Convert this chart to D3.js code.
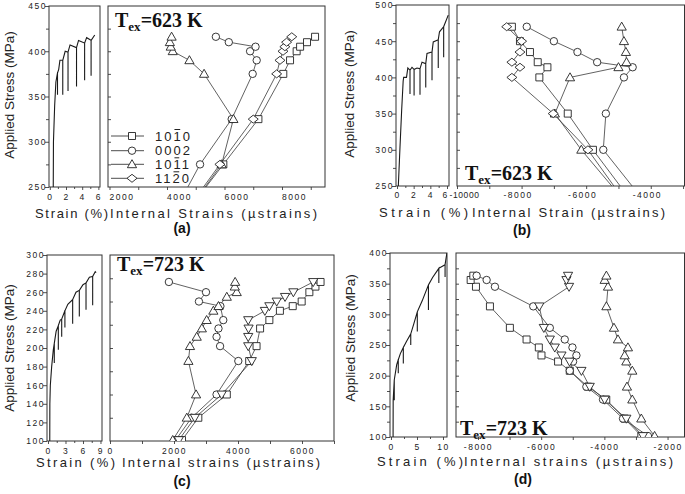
<!DOCTYPE html>
<html><head><meta charset="utf-8">
<script src="https://cdn.jsdelivr.net/npm/d3@7"></script>
<style>
body{margin:0;background:#fff;}
svg{display:block;}
</style></head><body>
<svg id="chart" width="685" height="494"></svg>
<script>
// ---------------- DATA ----------------
// Panel (a) Tex = 623 K
const stressA = [225, 275, 325, 375, 390, 400, 405, 410, 416];
const a1010 = [4750, 5960, 7180, 8045, 8280, 8510, 8630, 8870, 9150];
const a0002 = [4300, 5150, 6250, 6980, 7120, 6890, 7080, 6150, 5700];
const a1011 = [4750, 5900, 6310, 5290, 4780, 4200, 4130, 4100, 4160];
const a1120 = [4700, 5840, 7000, 7815, 7930, 8035, 8100, 8160, 8340];
const curveA = [[0.42,240],[0.45,300],[0.6,340],[0.75,366],[0.95,376],[0.95,352],[0.95,376],[1.1,380],[1.25,390],[1.6,390],[1.6,352],[1.6,390],[1.9,400],[2.25,399],[2.25,356],[2.25,399],[2.5,407],[3.3,404],[3.3,361],[3.3,404],[3.55,412],[4.3,409],[4.3,368],[4.3,409],[4.55,415],[5.1,412],[5.1,373],[5.1,412],[5.55,418]];

// Panel (b) Tex = 623 K
const stressB = [230, 300, 350, 400, 414, 421, 435, 450, 470];
const b1010 = [-4610, -5790, -6570, -7450, -7200, -7500, -7740, -8050, -8300];
const b0002 = [-4220, -5470, -5390, -4830, -4560, -5660, -6270, -7000, -7840];
const b1011 = [-4830, -6150, -6970, -6500, -5000, -4750, -4770, -4830, -4900];
const b1120 = [-4820, -5945, -7020, -8300, -8050, -8300, -8050, -8000, -8460];
const curveB = [[0.12,240],[0.36,304],[0.56,355],[0.74,395],[0.8,400],[1.14,400],[1.3,413],[1.56,410],[1.56,377],[1.56,410],[1.8,414],[2.05,411],[2.05,375],[2.05,411],[2.4,413],[2.76,412],[2.76,376],[2.76,412],[3.0,421],[3.45,419],[3.45,386],[3.45,419],[3.6,433],[4.2,435],[4.2,396],[4.2,435],[4.35,449],[4.95,452],[4.95,413],[4.95,452],[5.1,463],[5.6,470],[5.6,428],[5.6,470],[6.15,486]];

// Panel (c) Tex = 723 K
const stressC = [101, 125, 150, 186, 202, 212, 221, 230, 240, 245, 250, 255, 260, 266, 271];
const c1010 = [2250, 2760, 3650, 4350, 4580, null, 4690, 4980, 5310, 5710, 5990, null, 6230, 6420, 6580];
const c0002 = [2050, 2550, 3330, 4010, 3440, 3330, 3390, 3540, null, 3450, 2780, null, 3000, null, 1840];
const c1011 = [1960, 2400, 2690, 2450, 2500, 2710, 2870, 3020, 3230, 3390, null, 3650, 3960, 3900, 3910];
const cDown = [2150, 2650, 3490, 4430, 4320, 4320, 4330, 4320, 4840, 4980, 5210, 5470, 5730, null, 6350];
const curveC = [[0.3,90],[0.32,140],[0.4,160],[0.63,180],[0.91,198],[1.08,205],[1.08,184],[1.08,205],[1.4,218],[1.77,224],[1.77,198],[1.77,224],[2.1,230],[2.35,231],[2.35,212],[2.35,231],[2.9,240],[2.9,222],[2.9,240],[3.4,247],[4.23,252],[4.23,226],[4.23,252],[4.8,260],[5.37,262],[5.37,234],[5.37,262],[6.0,268],[6.52,270],[6.52,241],[6.52,270],[7.1,276],[7.66,277],[7.66,246],[7.66,277],[8.1,282],[8.25,281]];

// Panel (d) Tex = 723 K
const stressD = [101.6, 130, 161, 182, 208, 223, 233, 246, 259, 278, 313, 345, 356, 363];
const d1010 = [-2830, -3360, -3940, -4520, -5095, -5465, -5990, -6074, -6462, -6990, -7621, -8063, -8231, -8147];
const d0002 = [-2620, -3410, -4043, -4570, -5095, -4990, -4884, -5010, -5253, -5726, -6250, -7463, -7726, -8042];
const d1011 = [-2410, -2831, -3116, -3285, -3116, -3305, -3358, -3254, -3570, -3696, -3936, -3885, -3990, -3936];
const dDown = [-2780, -3305, -3990, -4463, -4726, -5100, -5358, -5569, -5726, -5916, -6060, -5117, -5200, -5149];
const curveD = [[0.4,90],[0.42,160],[0.63,193],[0.63,160],[0.63,193],[1.1,218],[1.4,226],[1.4,204],[1.4,226],[1.8,236],[2.37,246],[2.37,220],[2.37,246],[3.0,256],[3.8,268],[3.8,250],[3.8,268],[4.4,285],[5.06,304],[5.06,272],[5.06,304],[6.0,322],[7.2,348],[7.2,307],[7.2,348],[8.0,360],[9.2,375],[9.2,351],[9.2,375],[9.8,378],[10.4,381],[10.4,361],[10.4,381],[10.6,392],[10.8,402]];

// Legend / tick labels
const legendLabels = [["1","0","1","0"],["0","0","0","2"],["1","0","1","1"],["1","1","2","0"]];
const legendBar = [2, -1, 2, 2];
const yTicksA = [250, 300, 350, 400, 450];
const yTicksB = [250, 300, 350, 400, 450, 500];
const yTicksC = [100, 120, 140, 160, 180, 200, 220, 240, 260, 280, 300];
const yTicksD = [100, 150, 200, 250, 300, 350, 400];
const sTicksA = [0, 2, 4, 6], sTicksB = [0, 2, 4, 6], sTicksC = [0, 3, 6, 9], sTicksD = [0, 5, 10];
const eTicksA = [2000, 4000, 6000, 8000];
const eTicksB = [-10000, -8000, -6000, -4000];
const eTicksC = [0, 2000, 4000, 6000];
const eTicksD = [-8000, -6000, -4000, -2000];
const texLabels = ["623 K", "623 K", "723 K", "723 K"];
const panelLabels = ["(a)", "(b)", "(c)", "(d)"];
const xTitlesRight = ["Internal  Strains (\u00B5strains)", "Internal Strain (\u00B5strains)", "Internal strains (\u00B5strains)", "Internal strains (\u00B5strains)"];

// ---------------- DRAW ----------------
const SANS = '"Liberation Sans", Arial, Helvetica, sans-serif';
const SERIF = '"Liberation Serif", "Times New Roman", serif';
const svg = d3.select('#chart');
const defs = svg.append('defs');
const INK = '#222';

function rng(a, b, s){ const r=[]; for(let v=a; v<=b+1e-9; v+=s) r.push(+v.toFixed(6)); return r; }

const shapes = {
  square: 'M-3.5,-3.5H3.5V3.5H-3.5Z',
  circle: 'M3.7,0A3.7,3.7 0 1,1 -3.7,0A3.7,3.7 0 1,1 3.7,0Z',
  tri: 'M0,-4.6L4.6,3.4H-4.6Z',
  down: 'M0,4.6L4.6,-3.4H-4.6Z',
  diamond: 'M0,-4L5,0L0,4L-5,0Z'
};

const panels = [
  {id:'a', yT:6, yB:187, yDom:[250,450], yTicks:yTicksA, yMinor:rng(275,425,50), yInner:rng(275,425,25),
   lX:[49,100], lDom:[-0.1,6.2], sTicks:sTicksA, sMinor:[1,3,5],
   rX:[108,325], rDom:[1948,9496], eTicks:eTicksA, eMinor:rng(3000,9000,2000), eDx:12,
   yLabR:46, xLabY:200, curve:curveA, stress:stressA,
   series:[[a1010,'square'],[a0002,'circle'],[a1011,'tri'],[a1120,'diamond']],
   yTitle:[14,95], sTitle:[35,108,218], eTitle:[110,317,218], pLab:[182,233], tex:[115,27]},
  {id:'b', yT:5, yB:186, yDom:[250,500], yTicks:yTicksB, yMinor:rng(275,475,50), yInner:rng(275,475,25),
   lX:[396,449], lDom:[-0.12,6.24], sTicks:sTicksB, sMinor:[1,3,5],
   rX:[457,684.5], rDom:[-10000,-2955], eTicks:eTicksB, eMinor:rng(-9000,-3000,2000), eDx:-4,
   yLabR:393, xLabY:198, curve:curveB, stress:stressB,
   series:[[b1010,'square'],[b0002,'circle'],[b1011,'tri'],[b1120,'diamond']],
   yTitle:[354,94], sTitle:[379,468,217], eTitle:[472,665,217], pLab:[522,235], tex:[465,180]},
  {id:'c', yT:255, yB:441, yDom:[100,300], yTicks:yTicksC, yMinor:[], yInner:rng(125,275,25),
   lX:[47,102], lDom:[-0.17,9.26], sTicks:sTicksC, sMinor:[1.5,4.5,7.5],
   rX:[110,334], rDom:[0,7000], eTicks:eTicksC, eMinor:rng(1000,7000,2000), eDx:0,
   yLabR:44, xLabY:453.5, curve:curveC, stress:stressC,
   series:[[c1010,'square'],[c0002,'circle'],[c1011,'tri'],[cDown,'down']],
   yTitle:[14,348], sTitle:[36,115,467], eTitle:[122,320,467], pLab:[182,486], tex:[117,271]},
  {id:'d', yT:253, yB:437, yDom:[100,400], yTicks:yTicksD, yMinor:rng(125,375,50), yInner:rng(125,375,25),
   lX:[390,447], lDom:[-0.19,10.77], sTicks:sTicksD, sMinor:[2.5,7.5],
   rX:[456,684.5], rDom:[-8695,-1464], eTicks:eTicksD, eMinor:rng(-7000,-2000,2000), eDx:0,
   yLabR:387, xLabY:450, curve:curveD, stress:stressD,
   series:[[d1010,'square'],[d0002,'circle'],[d1011,'tri'],[dDown,'down']],
   yTitle:[355,338], sTitle:[377,463,466], eTitle:[464,673,466], pLab:[523,484], tex:[460,435]}
];

function styleAxis(g){
  g.select('.domain').remove();
  g.selectAll('line').attr('stroke', INK).attr('stroke-width', 0.8);
  g.selectAll('text').attr('font-family', SANS).attr('font-size', 8.5)
    .attr('fill', '#222').style('letter-spacing', '1.5px');
}

panels.forEach((p, i) => {
  const g = svg.append('g');
  const y = d3.scaleLinear().domain(p.yDom).range([p.yB, p.yT]);
  const xl = d3.scaleLinear().domain(p.lDom).range(p.lX);
  const xr = d3.scaleLinear().domain(p.rDom).range(p.rX);

  defs.append('clipPath').attr('id', 'cl'+p.id).append('rect')
    .attr('x', p.lX[0]).attr('y', p.yT).attr('width', p.lX[1]-p.lX[0]).attr('height', p.yB-p.yT);
  defs.append('clipPath').attr('id', 'cr'+p.id).append('rect')
    .attr('x', p.rX[0]).attr('y', p.yT).attr('width', p.rX[1]-p.rX[0]).attr('height', p.yB-p.yT);

  // y axis (left of strain plot)
  const ya = g.append('g').attr('transform', `translate(${p.lX[0]},0)`)
    .call(d3.axisLeft(y).tickValues(p.yTicks).tickSize(4).tickSizeOuter(0).tickFormat(d => String(d)));
  styleAxis(ya);
  ya.selectAll('text').attr('x', p.yLabR - p.lX[0] + 1).attr('dy', '0.35em');
  if (p.yMinor.length){
    const ym = g.append('g').attr('transform', `translate(${p.lX[0]},0)`)
      .call(d3.axisLeft(y).tickValues(p.yMinor).tickSize(3).tickFormat(''));
    styleAxis(ym);
  }
  // inner ticks on the internal-strain plot
  const yi = g.append('g').attr('transform', `translate(${p.rX[0]},0)`)
    .call(d3.axisRight(y).tickValues(p.yInner).tickSize(3).tickFormat(''));
  styleAxis(yi);

  // bottom axes
  const xa = g.append('g').attr('transform', `translate(0,${p.yB})`)
    .call(d3.axisBottom(xl).tickValues(p.sTicks).tickSize(3).tickFormat(d => String(d)));
  styleAxis(xa);
  xa.selectAll('text').attr('y', p.xLabY - p.yB).attr('dy', 0);
  if (p.id === 'b') xa.selectAll('text').filter(d => d === 6).attr('x', -2);
  const xam = g.append('g').attr('transform', `translate(0,${p.yB})`)
    .call(d3.axisBottom(xl).tickValues(p.sMinor).tickSize(2).tickFormat(''));
  styleAxis(xam);

  const xr1 = g.append('g').attr('transform', `translate(0,${p.yB})`)
    .call(d3.axisBottom(xr).tickValues(p.eTicks).tickSize(3).tickFormat(d => String(d)));
  styleAxis(xr1);
  xr1.selectAll('text').attr('y', p.xLabY - p.yB).attr('dy', 0).attr('x', p.eDx);
  if (p.id === 'b') xr1.selectAll('text').filter(d => d === -10000)
    .attr('x', 7).style('letter-spacing', '0.6px');
  const xr2 = g.append('g').attr('transform', `translate(0,${p.yB})`)
    .call(d3.axisBottom(xr).tickValues(p.eMinor).tickSize(3).tickFormat(''));
  styleAxis(xr2);

  // frames
  g.append('rect').attr('x', p.lX[0]).attr('y', p.yT).attr('width', p.lX[1]-p.lX[0]).attr('height', p.yB-p.yT)
    .attr('fill', 'none').attr('stroke', '#333').attr('stroke-width', 1);
  g.append('rect').attr('x', p.rX[0]).attr('y', p.yT).attr('width', p.rX[1]-p.rX[0]).attr('height', p.yB-p.yT)
    .attr('fill', 'none').attr('stroke', '#333').attr('stroke-width', 1);

  // stress-strain curve
  g.append('path').datum(p.curve).attr('clip-path', `url(#cl${p.id})`)
    .attr('d', d3.line().x(d => xl(d[0])).y(d => y(d[1])))
    .attr('fill', 'none').attr('stroke', '#1a1a1a').attr('stroke-width', 1.1);

  // internal strain series
  const rg = g.append('g').attr('clip-path', `url(#cr${p.id})`);
  const line = d3.line().x(d => xr(d[0])).y(d => y(d[1]));
  const ser = p.series.map(([vals, shape]) => ({shape, pts: vals.map((v, k) => [v, p.stress[k]]).filter(d => d[0] != null)}));
  ser.forEach(s => {
    rg.append('path').datum(s.pts).attr('d', line)
      .attr('fill', 'none').attr('stroke', '#3a3a3a').attr('stroke-width', 0.8);
  });
  ser.forEach(s => {
    rg.selectAll(null).data(s.pts).enter().append('path')
      .attr('transform', d => `translate(${xr(d[0])},${y(d[1])})`)
      .attr('d', shapes[s.shape]).attr('fill', '#fff').attr('stroke', INK).attr('stroke-width', 0.9);
  });

  // titles
  g.append('text').attr('transform', `translate(${p.yTitle[0]},${p.yTitle[1]}) rotate(-90)`)
    .attr('text-anchor', 'middle').attr('font-family', SANS).attr('font-size', 13.5).attr('fill', '#222')
    .text('Applied Stress (MPa)');
  g.append('text').attr('x', p.sTitle[0]).attr('y', p.sTitle[2])
    .attr('textLength', p.sTitle[1]-p.sTitle[0]).attr('lengthAdjust', 'spacing')
    .attr('font-family', SANS).attr('font-size', 13).attr('fill', '#222').text('Strain (%)');
  g.append('text').attr('x', p.eTitle[0]).attr('y', p.eTitle[2])
    .attr('textLength', p.eTitle[1]-p.eTitle[0]).attr('lengthAdjust', 'spacing')
    .attr('font-family', SANS).attr('font-size', 13).attr('fill', '#222').text(xTitlesRight[i]);
  g.append('text').attr('x', p.pLab[0]).attr('y', p.pLab[1]).attr('text-anchor', 'middle')
    .attr('font-family', SANS).attr('font-weight', 'bold').attr('font-size', 14).attr('fill', '#111')
    .text(panelLabels[i]);

  const t = g.append('text').attr('x', p.tex[0]).attr('y', p.tex[1])
    .attr('font-family', SERIF).attr('font-weight', 'bold').attr('font-size', 20).attr('fill', '#111');
  t.append('tspan').text('T');
  t.append('tspan').attr('font-size', 13).attr('dy', 4).text('ex');
  t.append('tspan').attr('dy', -4).text('=' + texLabels[i]);

  // legend in (a)
  if (p.id === 'a'){
    const rows = [136, 150.7, 164.3, 178.3];
    const lg = g.append('g');
    p.series.forEach(([vals, shape], k) => {
      lg.append('line').attr('x1', 111).attr('x2', 144).attr('y1', rows[k]).attr('y2', rows[k])
        .attr('stroke', '#3a3a3a').attr('stroke-width', 0.9);
      lg.append('path').attr('transform', `translate(132,${rows[k]})`).attr('d', shapes[shape])
        .attr('fill', '#fff').attr('stroke', INK).attr('stroke-width', 0.9);
      const tx = lg.append('text').attr('x', 155).attr('y', rows[k] + 4.6)
        .attr('font-family', SANS).attr('font-size', 13).attr('fill', '#222')
        .style('letter-spacing', '2px').text(legendLabels[k].join(''));
      if (legendBar[k] >= 0){
        const node = tx.node();
        const s = node.getStartPositionOfChar(legendBar[k]);
        const e = node.getEndPositionOfChar(legendBar[k]);
        lg.append('line').attr('x1', s.x + 1).attr('x2', e.x - 2.5)
          .attr('y1', rows[k] - 6.5).attr('y2', rows[k] - 6.5)
          .attr('stroke', '#222').attr('stroke-width', 1);
      }
    });
  }
});
</script></body></html>
